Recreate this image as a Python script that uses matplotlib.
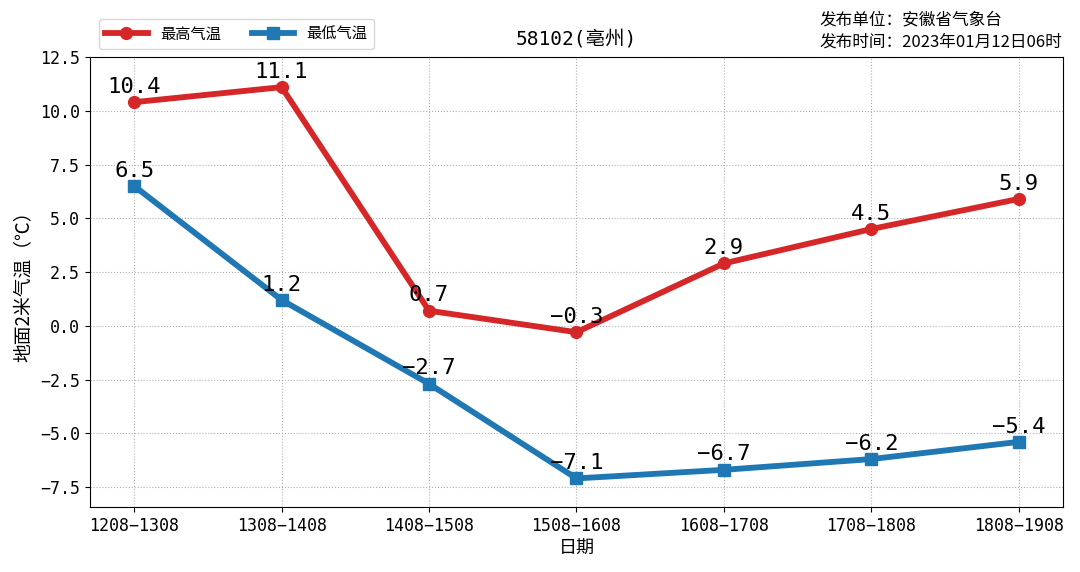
import matplotlib
matplotlib.use("Agg")
import matplotlib.pyplot as plt

plt.rcParams['font.family'] = ['DejaVu Sans Mono', 'Noto Sans CJK SC']
plt.rcParams['axes.unicode_minus'] = True

# data
dates = ["1208-1308", "1308-1408", "1408-1508", "1508-1608",
         "1608-1708", "1708-1808", "1808-1908"]
t_max = [10.4, 11.1, 0.7, -0.3, 2.9, 4.5, 5.9]
t_min = [6.5, 1.2, -2.7, -7.1, -6.7, -6.2, -5.4]

cjk = ['Noto Sans CJK SC', 'DejaVu Sans']

fig = plt.figure(figsize=(10.8, 5.72), dpi=100)
ax = fig.add_axes([0.0833, 0.1136, 0.9009, 0.7867])

x = list(range(len(dates)))
ax.plot(x, t_max, color="#d62728", lw=4.2, marker="o", ms=8.5, label="最高气温")
ax.plot(x, t_min, color="#1f77b4", lw=4.2, marker="s", ms=9, label="最低气温")

for i, v in enumerate(t_max):
    ax.text(i, v + 0.25, f"{v}".replace("-", "\u2212"), ha="center", va="bottom", fontsize=16)
for i, v in enumerate(t_min):
    ax.text(i, v + 0.25, f"{v}".replace("-", "\u2212"), ha="center", va="bottom", fontsize=16)

ax.set_xticks(x)
ax.set_xticklabels([d.replace("-", "\u2212") for d in dates], fontsize=12)
ax.set_xlim(-0.3, 6.3)
ax.set_ylim(-8.43, 12.5)
ax.set_yticks([-7.5, -5.0, -2.5, 0.0, 2.5, 5.0, 7.5, 10.0, 12.5])
ax.tick_params(axis="y", labelsize=12)
ax.grid(True, linestyle=":", color="#b0b0b0")

ax.set_xlabel("日期", fontsize=13, labelpad=4, family=cjk)
ax.set_ylabel("地面2米气温（℃）", fontsize=13.5, family=cjk)
ax.set_title("58102(亳州)", fontsize=14, pad=9)

leg = ax.legend(loc="lower left", bbox_to_anchor=(0.006, 1.012), ncol=2,
                prop={"family": cjk, "size": 11}, handlelength=2.8,
                frameon=True, borderaxespad=0.2, columnspacing=2.0)

fig.text(0.984, 0.945, "发布单位：安徽省气象台\n发布时间：2023年01月12日06时",
         ha="right", va="center", multialignment="left", fontsize=12,
         linespacing=1.4, family=cjk)

fig.savefig("out.png")
